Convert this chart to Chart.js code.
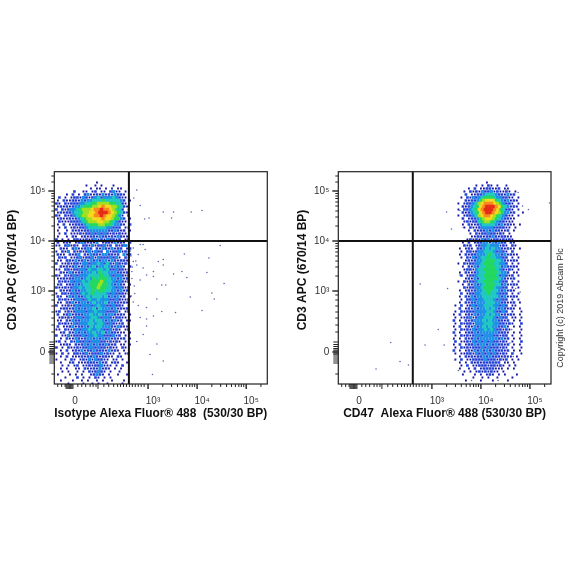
<!DOCTYPE html>
<html>
<head>
<meta charset="utf-8">
<title>CD3 vs CD47 flow cytometry</title>
<script src="https://cdn.jsdelivr.net/npm/chart.js@4"></script>
<style>
    body { margin: 0; background: #fff; }
    canvas { position: absolute; top: 0; filter: blur(0.45px); }
    #leftPlot { left: 0; }
    #rightPlot { left: 292px; }
</style>
</head>
<body>
<canvas id="leftPlot" width="292" height="584"></canvas>
<canvas id="rightPlot" width="292" height="584"></canvas>
<script>
// Eixos em unidades de decada (3 = 10^3, 4 = 10^4 ...)
const tickLabels = ['0', '10³', '10⁴', '10⁵'];
const xTickValues = [1.41, 3, 4, 5];
const yTickValues = [1.78, 3, 4, 5];
const xMidTicks = [1.98, 1.33, 1.35, 1.37, 1.39, 1.43, 1.45, 1.47];
const yMidTicks = [1.98, 1.93, 1.89, 1.85, 1.82, 1.80, 1.76, 1.74, 1.72, 1.68, 1.64, 1.60, 1.56];
const xMinorTicks = [1.16, 1.24, 1.31, 1.57, 1.65, 1.73, 1.82, 1.88, 1.94, 2.10, 2.20, 2.30, 2.38, 2.44, 2.50, 2.56, 2.62, 2.68, 2.74, 2.80, 2.86, 2.92,
    3.30, 3.48, 3.60, 3.70, 3.78, 3.85, 3.90, 3.95, 4.30, 4.48, 4.60, 4.70, 4.78, 4.85, 4.90, 4.95, 5.30];
const yMinorTicks = [5.30, 5.18, 4.95, 4.90, 4.85, 4.78, 4.70, 4.60, 4.48, 4.30, 3.95, 3.90, 3.85, 3.78, 3.70, 3.60, 3.48, 3.30, 2.92, 2.82, 2.70, 2.58, 2.46, 2.32, 2.18, 1.34];
const gateX = 2.61;
const gateY = 4;

// Densidade: cada linha = faixa de CD3, cada digito = nivel de cor (0 = vazio)
const leftDensity = [
    '0000000000000000000000000', '0000000000000000000000000', '0000000000000000000000000',
    '0000000000000100000000000', '0000000000100101000100000', '0000000000010110101011000',
    '0000002001101201102311010', '0001020102311213121322100', '0201012213212342333432110',
    '1021122132334445444443201', '2102122233445566665544210', '1212123345556678776654210',
    '2021233456667889887654201', '1212234456677899987654210', '2102123456677889877653102',
    '1211212345667778776553201', '0211122234566677665432110', '1020112223455566554332102',
    '0102012122344444433222011', '1001021212233333322321201', '0102011121223232321212110',
    '1001021012122132212132110', '2010102211212312132212012',
    '2012101232121301221312102', '1102312102213122312021231', '0211023112320213213122012',
    '1021302121231322031223121', '2110212302132213322120312', '0212011231223132223231021',
    '1102213123132323313212210', '2011212213323343242132121', '0212123123234233432323102',
    '1102212233243344342232211', '0211321223334354433322120', '2102123233344445443233212',
    '1121223323435455543323120', '0212132334345556544323212', '1201223234455565543232101',
    '2112123343445565544323212', '0211232233445455443323120', '1022123234345444432322211',
    '2101323223434443423231201', '0212112332343343332232112', '1102231233234333423221210',
    '2011212323332343322322101', '0122123232334243332312120', '1201212333233433322231012',
    '2012312223343343233212101', '0121212332334432332122110', '1102132233343443232312011',
    '0212113233344344323211201', '2011231223243443332132110', '1102112323343343223121012',
    '0120213232334334232211101', '2011312223233433222312010', '0102113212332323231211201',
    '1201021322323332212121010', '0112102123232322321201101', '2010211212233232212110210',
    '0102012131223222131210100', '1020102212312223121101012', '0102011121223212211021000',
    '1001021012131322110110100', '0100120111222131201210010', '0010101201121223111010200',
    '0101001102112131210101000', '0010100101021232101001000', '1000101010012321010010010',
    '0001000201010210101000000', '0100010010100101001000100', '0000100001001010010000100'
];
const rightDensity = [
    '0000000000000000000000000', '0000000000000000000000000', '0000000000000000000000000',
    '0000000000001000000000000', '0000000001010210100100000', '0000001020112211201100000',
    '0000010212132231211210100', '0000020112234443221312000', '0000102132345554332211010',
    '0000021223567775432312100', '0001012234678887653221010', '0000212345789998754312100',
    '0001022345789998754221010', '0000212345789987653312001', '0001012234678876543211010',
    '0000201223567765432211000', '0000012122456654322111000', '0000102112344443231211010',
    '0000010211233332222110100', '0000001021223232211201000', '0000000102122322121010000',
    '0000000112212232122110000', '0000001212132312212121000',
    '0000102012233132322021000', '0000021201233433312102100', '0001012102234343321211010',
    '0000102212334443232102000', '0001021223334543323121100', '0000102132344544332201010',
    '0000012123345554432112100', '0001021223345554433201010', '0000102132445554423212100',
    '0000012213445555432121010', '0001021123445555433201100', '0000201223445555423212010',
    '0000012132445555432112000', '0001021223445554432201010', '0000102132345554423112100',
    '0000021223345554332201010', '0001012123345544323121000', '0000201223344544322201010',
    '0001021323344444323112100', '0000102232334443232201010', '0001021223334443322112010',
    '0010201232334443323201100', '0002012132334343232121010', '0010212223333443223201001',
    '0102012132334343312121010', '0010112312334443232201101', '0201021233343433221201010',
    '0010212213334443322121002', '0102012132343433223101010', '0010212132334343221210001',
    '0201012232333333222101010', '0010212123323332212201001', '0101021232333333231201010',
    '0020112132323232212101002', '0102012232332323221201010', '0010212122232322212101001',
    '0201012132323232221201010', '0010112213232323212102001', '0001021212232322212110100',
    '0010201122223222121201010', '0001010212122222201101000', '0000102011222122121010100',
    '0001001020122221110101000', '0000010101212121101000000', '0000100010101210101000100',
    '0000000010010100100001000', '0000010000100010000100000'
];

// Eventos isolados fora da nuvem principal
const leftStrayX = [2.77, 2.71, 2.84, 3.31, 3.52, 3.88, 4.10, 2.93, 3.02, 3.48, 4.47, 3.74, 4.24, 3.31, 4.20, 3.69, 3.52, 3.79, 4.55, 4.30, 4.35, 3.86, 4.10, 3.56, 3.28, 3.28, 3.36, 2.97, 3.11, 3.18, 2.80, 2.97, 3.11, 2.97, 2.90, 2.77, 3.18, 3.04, 3.31, 3.09, 2.70, 2.77, 2.70, 2.84, 2.94, 2.67, 2.84, 2.73, 2.90, 3.21, 3.31, 2.97, 2.84, 2.67, 2.80, 3.11, 2.70, 2.90, 2.65, 2.68, 2.72, 2.66, 2.75, 2.64];
const leftStrayY = [5.02, 4.86, 4.71, 4.58, 4.58, 4.58, 4.61, 4.44, 4.46, 4.46, 3.91, 3.74, 3.66, 3.63, 3.37, 3.39, 3.34, 3.27, 3.15, 2.96, 2.84, 2.88, 2.61, 2.57, 2.59, 3.12, 3.12, 3.32, 3.29, 2.84, 2.71, 2.67, 2.50, 2.30, 2.13, 1.99, 1.94, 1.73, 1.60, 1.33, 3.59, 3.52, 3.86, 3.93, 3.83, 3.25, 3.22, 2.95, 3.46, 3.59, 3.52, 2.44, 2.47, 3.39, 3.73, 3.39, 2.78, 3.93, 3.70, 3.48, 3.10, 2.90, 3.60, 3.80];
const rightStrayX = [2.16, 1.86, 2.35, 2.52, 2.76, 2.86, 3.13, 3.32, 3.25, 4.76, 4.85, 4.97, 5.40, 4.71, 4.80, 3.40, 3.30, 4.52, 4.56, 4.59, 4.46, 4.56, 4.52, 4.63, 4.66, 4.69, 4.59, 3.57, 3.64, 3.57, 3.44, 3.47, 3.54, 3.81, 4.35];
const rightStrayY = [1.97, 1.44, 1.59, 1.52, 3.14, 1.92, 2.23, 3.05, 1.92, 4.97, 4.70, 4.63, 4.76, 3.05, 2.98, 4.24, 4.58, 5.02, 4.88, 4.37, 4.17, 3.86, 2.68, 2.23, 1.69, 1.52, 1.96, 4.61, 4.27, 3.32, 2.03, 1.62, 1.41, 1.21, 1.21];

const levelColors = ['#1414a8', '#2040d8', '#1f8fe8', '#1fc8c0', '#22d860', '#9fe020', '#f6d91e', '#f78c1e', '#e62a16'];
const levelRadii = [1.3, 1.9, 2.2, 2.5, 2.5, 2.5, 2.5, 2.5, 2.5];

// Desenha moldura, marcas menores e textos que o Chart.js nao posiciona sozinho
const framePlugin = {
    id: 'framePlugin',
    afterDatasetsDraw(chart, args, opts) {
        const { ctx, chartArea: a, scales } = chart;
        ctx.save();
        ctx.strokeStyle = '#222';
        ctx.lineWidth = 1.2;
        ctx.strokeRect(a.left, a.top, a.right - a.left, a.bottom - a.top);

        const drawX = (list, len) => list.forEach(v => {
            const p = scales.x.getPixelForValue(v);
            ctx.beginPath(); ctx.moveTo(p, a.bottom); ctx.lineTo(p, a.bottom + len); ctx.stroke();
        });
        const drawY = (list, len) => list.forEach(v => {
            const p = scales.y.getPixelForValue(v);
            ctx.beginPath(); ctx.moveTo(a.left, p); ctx.lineTo(a.left - len, p); ctx.stroke();
        });
        ctx.lineWidth = 1;
        drawX(xMinorTicks, 3);
        drawY(yMinorTicks, 3);
        drawX(xMidTicks, 5);
        drawY(yMidTicks, 5);
        ctx.lineWidth = 1.4;
        drawX(xTickValues, 5);
        drawY(yTickValues, 6);

        ctx.fillStyle = '#111';
        ctx.font = 'bold 12px "Liberation Sans"';
        ctx.textAlign = 'center';
        ctx.textBaseline = 'middle';
        ctx.translate(opts.yTitleX, 270);
        ctx.rotate(-Math.PI / 2);
        ctx.fillText('CD3 APC (670/14 BP)', 0, 0);
        ctx.restore();

        if (opts.credit) {
            ctx.save();
            ctx.fillStyle = '#333';
            ctx.font = '9px "Liberation Sans"';
            ctx.textAlign = 'center';
            ctx.textBaseline = 'middle';
            ctx.translate(269, 308);
            ctx.rotate(-Math.PI / 2);
            ctx.fillText(opts.credit, 0, 0);
            ctx.restore();
        }
    }
};

function densityDatasets(density, xStart) {
    const binX = 3 / 49, binY = 3 / 50;
    const sets = levelColors.map((color, i) => ({
        data: [],
        backgroundColor: color,
        pointStyle: 'rect',
        pointRadius: levelRadii[i],
        pointBorderWidth: 0,
        showLine: false,
        order: 10 - i
    }));
    density.forEach((row, r) => {
        [...row].forEach((digit, c) => {
            const level = Number(digit);
            // linhas alternadas deslocadas meio passo para nao parecer uma grade
            const shift = r % 2 ? binX / 2 : 0;
            if (level > 0) sets[level - 1].data.push({ x: xStart + c * binX + shift, y: 5.35 - r * binY });
        });
    });
    return sets;
}

function makePanel(id, density, strayX, strayY, xStart, xTitle, box) {
    const datasets = densityDatasets(density, xStart);
    datasets.push({
        data: strayX.map((x, i) => ({ x, y: strayY[i] })),
        backgroundColor: '#5a68b0',
        pointRadius: 0.8,
        pointBorderWidth: 0,
        showLine: false,
        order: 1
    });
    const gateLine = (data) => ({
        data, showLine: true, borderColor: '#111', borderWidth: 2, pointRadius: 0, order: 0
    });
    datasets.push(gateLine([{ x: gateX, y: 1.14 }, { x: gateX, y: 5.386 }]));
    datasets.push(gateLine([{ x: 1.09, y: gateY }, { x: 5.43, y: gateY }]));

    new Chart(document.getElementById(id), {
        type: 'scatter',
        data: { datasets },
        plugins: [framePlugin],
        options: {
            responsive: false,
            animation: false,
            layout: { padding: { top: 171.7, bottom: 160, right: box.right, left: 0 } },
            plugins: {
                legend: { display: false },
                tooltip: { enabled: false },
                framePlugin: { yTitleX: box.yTitleX, credit: box.credit }
            },
            scales: {
                x: {
                    type: 'linear', min: 1.09, max: 5.43,
                    grid: { display: false, drawTicks: false },
                    border: { display: false },
                    afterBuildTicks: (s) => { s.ticks = xTickValues.map(value => ({ value })); },
                    afterFit: (s) => { s.height = 40; },
                    ticks: {
                        autoSkip: false, maxRotation: 0, padding: 11, labelOffset: 5,
                        color: '#333', font: { size: 10, family: '"Liberation Sans"' },
                        callback: (v) => tickLabels[xTickValues.indexOf(v)]
                    },
                    title: {
                        display: true, text: xTitle, color: '#111', padding: { top: 0, bottom: 3 },
                        font: { size: 12, weight: 'bold', family: '"Liberation Sans"' }
                    }
                },
                y: {
                    type: 'linear', min: 1.14, max: 5.386,
                    grid: { display: false, drawTicks: false },
                    border: { display: false },
                    afterBuildTicks: (s) => { s.ticks = yTickValues.map(value => ({ value })); },
                    afterFit: (s) => { s.width = box.left; },
                    ticks: {
                        autoSkip: false, padding: 9,
                        color: '#333', font: { size: 10, family: '"Liberation Sans"' },
                        callback: (v) => tickLabels[yTickValues.indexOf(v)]
                    }
                }
            }
        }
    });
}

makePanel('leftPlot', leftDensity, leftStrayX, leftStrayY, 1.133,
    'Isotype Alexa Fluor® 488  (530/30 BP)', { left: 54.3, right: 24.7, yTitleX: 13 });
makePanel('rightPlot', rightDensity, rightStrayX, rightStrayY, 3.357,
    'CD47  Alexa Fluor® 488 (530/30 BP)', { left: 46.3, right: 33, yTitleX: 11, credit: 'Copyright (c) 2019 Abcam Plc' });
</script>
</body>
</html>
